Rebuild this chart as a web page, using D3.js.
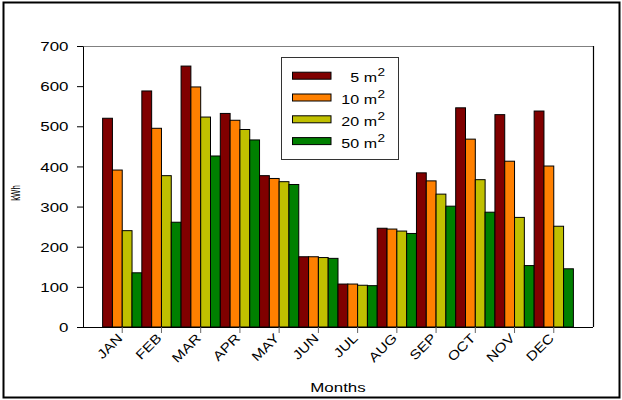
<!DOCTYPE html>
<html>
<head>
<meta charset="utf-8">
<script src="https://cdn.jsdelivr.net/npm/d3@7"></script>
<style>
  html, body { margin: 0; padding: 0; background: #fff; }
  svg { display: block; font-family: "Liberation Sans", Arial, sans-serif; }
</style>
</head>
<body>
<svg id="chart" width="622" height="400"></svg>
<script>
// Monthly energy yield (kWh) for four collector areas
const months = ["JAN", "FEB", "MAR", "APR", "MAY", "JUN", "JUL", "AUG", "SEP", "OCT", "NOV", "DEC"];
const areas = ["5", "10", "20", "50"];
const kwh5  = [520, 588, 650, 532, 377, 175, 107, 246, 384, 546, 529, 538];
const kwh10 = [391, 495, 598, 515, 370, 175, 107, 244, 364, 468, 413, 401];
const kwh20 = [240, 377, 523, 492, 362, 173, 104, 239, 331, 367, 273, 251];
const kwh50 = [135, 261, 426, 466, 355, 171, 103, 233, 301, 286, 153, 145];
const yTicks = [0, 100, 200, 300, 400, 500, 600, 700];
const colors = ["#800000", "#ff8000", "#c0c000", "#008000"];

const seriesValues = [kwh5, kwh10, kwh20, kwh50];
const rows = months.map((m, i) => ({
  month: m,
  values: areas.map((a, j) => ({ area: a, value: seriesValues[j][i] }))
}));

const svg = d3.select("#chart");
const plot = { left: 83, right: 593, top: 46, bottom: 327 };
const SX = 1.3; // horizontal stretch of the lettering

// outer frame
svg.append("rect")
  .attr("x", 3.5).attr("y", 2.5).attr("width", 616).attr("height", 395)
  .attr("fill", "none").attr("stroke", "#000").attr("stroke-width", 2);

const x = d3.scaleBand().domain(months).range([plot.left, plot.right])
  .paddingInner(0).paddingOuter(0.5);
const xs = d3.scaleBand().domain(areas).range([0, x.bandwidth()]);
const y = d3.scaleLinear().domain([0, 700]).range([plot.bottom, plot.top]);
const color = d3.scaleOrdinal().domain(areas).range(colors);

// top and right edges of the plot box
svg.append("line").attr("x1", plot.left).attr("x2", plot.right)
  .attr("y1", plot.top + 0.5).attr("y2", plot.top + 0.5)
  .attr("stroke", "#808080").attr("stroke-width", 1.2);
svg.append("line").attr("x1", plot.right + 0.5).attr("x2", plot.right + 0.5)
  .attr("y1", plot.top).attr("y2", plot.bottom)
  .attr("stroke", "#000").attr("stroke-width", 1.2);

// bars
const groups = svg.append("g").selectAll("g").data(rows).join("g")
  .attr("transform", d => `translate(${x(d.month)},0)`);
groups.selectAll("rect").data(d => d.values).join("rect")
  .attr("x", d => xs(d.area))
  .attr("y", d => y(d.value))
  .attr("width", xs.bandwidth())
  .attr("height", d => y(0) - y(d.value))
  .attr("fill", d => color(d.area))
  .attr("stroke", "#000").attr("stroke-width", 1);

// y axis
const yAxis = svg.append("g").attr("transform", `translate(${plot.left},0)`)
  .call(d3.axisLeft(y).tickValues(yTicks).tickSize(6).tickPadding(0).tickSizeOuter(0));
yAxis.select(".domain").attr("stroke", "#000");
yAxis.selectAll(".tick line").attr("stroke", "#000");
yAxis.selectAll(".tick text")
  .attr("x", -14.5 / SX).attr("dy", "0.36em")
  .attr("transform", `scale(${SX},1)`)
  .attr("font-size", 13).attr("fill", "#000")
  .attr("font-family", "'Liberation Sans', Arial, sans-serif");

// x axis
const xAxis = svg.append("g").attr("transform", `translate(0,${plot.bottom})`)
  .call(d3.axisBottom(x).tickSize(6).tickSizeOuter(0));
xAxis.select(".domain").attr("stroke", "#000").attr("stroke-width", 1.2)
  .attr("d", `M${plot.left},0.5H${plot.right}`);
xAxis.selectAll(".tick line").attr("stroke", "#666");
xAxis.selectAll(".tick text")
  .attr("y", 0).attr("dy", 0).attr("x", 0)
  .attr("text-anchor", "end")
  .attr("transform", "translate(1,12) rotate(-45) scale(1.2,1)")
  .attr("font-size", 13).attr("fill", "#000")
  .attr("font-family", "'Liberation Sans', Arial, sans-serif");

// axis titles
svg.append("text")
  .attr("transform", `translate(338,392) scale(${SX},1)`)
  .attr("text-anchor", "middle").attr("font-size", 13).text("Months");
svg.append("text")
  .attr("transform", "translate(20,193) rotate(-90) scale(0.65,1)")
  .attr("text-anchor", "middle").attr("font-size", 12).text("kWh");

// legend
const legend = svg.append("g");
legend.append("rect")
  .attr("x", 281.5).attr("y", 57.5).attr("width", 117).attr("height", 102)
  .attr("fill", "#fff").attr("stroke", "#333").attr("stroke-width", 1);
const item = legend.selectAll("g.item").data(areas).join("g")
  .attr("class", "item")
  .attr("transform", (d, i) => `translate(0,${75.7 + i * 21.8})`);
item.append("rect")
  .attr("x", 292.5).attr("y", -3.5).attr("width", 38.5).attr("height", 7)
  .attr("fill", d => color(d)).attr("stroke", "#000").attr("stroke-width", 1);
item.append("text")
  .attr("transform", `translate(377,6.5) scale(${SX * 0.95},1)`)
  .attr("text-anchor", "end").attr("font-size", 13)
  .text(d => `${d} m`);
item.append("text")
  .attr("transform", `translate(377.5,0.5) scale(${SX * 0.95},1)`)
  .attr("font-size", 11)
  .text("2");
</script>
</body>
</html>
